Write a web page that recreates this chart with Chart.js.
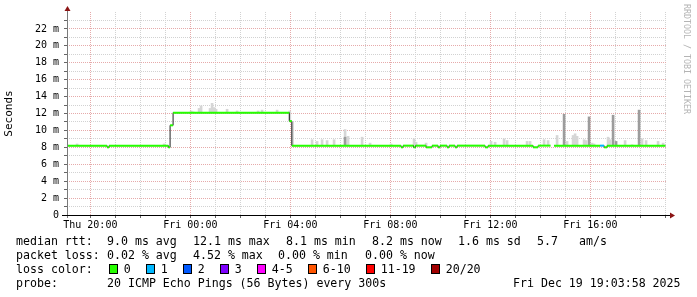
<!DOCTYPE html>
<html>
<head>
<meta charset="utf-8">
<script src="https://cdn.jsdelivr.net/npm/chart.js@4/dist/chart.umd.min.js"></script>
<style>
  body { margin: 0; background: #fff; }
  #wrap { position: relative; width: 697px; height: 297px; overflow: hidden; background: #fff; }
  #chart { position: absolute; left: 0; top: 0; }
  .t { position: absolute; font: 11.6px "DejaVu Sans Mono", monospace; white-space: pre; color: #000; line-height: 14px; }
  .box { position: absolute; width: 7px; height: 8px; border: 1px solid #000; }
  #mark { position: absolute; left: 682px; top: 4px; writing-mode: vertical-rl; font: 8.3px "DejaVu Sans Mono", monospace; color: #b4b4b4; white-space: pre; }
</style>
</head>
<body>
<div id="wrap">
  <canvas id="chart" width="697" height="297"></canvas>
  <div id="mark">RRDTOOL / TOBI OETIKER</div>
  <div id="legend"></div>
</div>
<script>
// time axis in hours counted from Thu 00:00 (24 = Fri 00:00)
var startHour = 19 + 4 / 60;
var endHour = startHour + 24;

// median rtt as runs: run i goes from medianHours[i] to medianHours[i + 1]
var medianHours = [19.07, 20.67, 20.75, 23.12, 23.19, 23.31, 27.96, 28.06, 32.43, 32.51,
                   32.93, 33.01, 33.43, 33.67, 33.91, 33.99, 34.27, 34.35, 34.59, 34.67,
                   35.79, 35.91, 37.71, 37.91, 38.41, 38.55, 40.39, 40.55, 40.67, 43.00];
var medianMs = [8.2, 8.0, 8.2, 8.0, 10.6, 12.1, 11.1, 8.2, 8.0, 8.2,
                8.0, 8.2, 8.0, 8.2, 8.0, 8.2, 8.0, 8.2, 8.0, 8.2,
                8.0, 8.2, 8.0, 8.2, null, 8.2, 8.2, 8.0, 8.2];
var medianLoss = [0, 0, 0, 0, 0, 0, 0, 0, 0, 0,
                  0, 0, 0, 0, 0, 0, 0, 0, 0, 0,
                  0, 0, 0, 0, 0, 0, 1, 0, 0];

// smoke (spread of the 20 pings), light part
var smokeHours = [19.47, 22.95, 24.03, 24.11, 24.35, 24.43, 24.79, 24.87, 24.95, 25.03,
                  25.47, 25.87, 26.71, 26.87, 27.47, 27.98, 28.09, 28.87, 29.07, 29.27,
                  29.47, 29.75, 30.19, 30.31, 30.87, 31.19, 32.03, 32.95, 33.03, 33.43,
                  36.03, 36.19, 36.55, 36.67, 37.47, 37.59, 38.15, 38.31, 38.67, 39.07,
                  39.31, 39.39, 39.47, 39.75, 39.83, 40.07, 40.15, 40.71, 40.79, 41.39,
                  41.67, 42.07, 42.23, 42.71, 42.91];
var smokeLow = [8.2, 8.2, 12.1, 12.1, 12.1, 12.1, 12.1, 12.1, 12.1, 12.1,
                12.1, 12.1, 12.1, 12.1, 12.1, 11.1, 8.2, 8.2, 8.2, 8.2,
                8.2, 8.2, 8.2, 8.2, 8.2, 8.2, 8.2, 8.2, 8.2, 8.2,
                8.2, 8.2, 8.2, 8.2, 8.2, 8.2, 8.2, 8.2, 8.2, 8.2,
                8.2, 8.2, 8.2, 8.2, 8.2, 8.2, 8.2, 8.2, 8.2, 8.2,
                8.2, 8.2, 8.2, 8.2, 8.2];
var smokeHigh = [8.4, 8.4, 12.3, 12.2, 12.6, 12.9, 12.6, 13.2, 12.7, 12.5,
                 12.5, 12.3, 12.3, 12.4, 12.4, 12.3, 11.0, 8.9, 8.7, 8.9,
                 8.8, 8.9, 10.1, 9.3, 9.2, 8.5, 8.4, 9.0, 8.6, 8.5,
                 8.7, 8.6, 9.0, 8.8, 8.7, 8.7, 8.9, 8.8, 9.4, 8.7,
                 9.4, 9.6, 9.3, 8.9, 8.8, 8.5, 8.4, 9.2, 8.9, 8.8,
                 8.3, 9.0, 8.8, 8.7, 8.5];

// smoke, dense part
var denseHours = [30.19, 38.95, 39.95, 40.91, 41.03, 41.95];
var denseLow = [8.2, 8.2, 8.2, 8.2, 8.2, 8.2];
var denseHigh = [9.2, 11.9, 11.6, 11.8, 8.7, 12.4];

var lossLabels = ['0', '1', '2', '3', '4-5', '6-10', '11-19', '20/20'];
var lossColors = ['#26ff00', '#00b8ff', '#0059ff', '#7e00ff', '#ff00ff', '#ff5500', '#ff0000', '#a10000'];

var statsRtt = ['median rtt:', '9.0 ms avg', '12.1 ms max', '8.1 ms min', '8.2 ms now', '1.6 ms sd', '5.7', 'am/s'];
var statsLoss = ['packet loss:', '0.02 % avg', '4.52 % max', '0.00 % min', '0.00 % now'];
var probeText = ['probe:', '20 ICMP Echo Pings (56 Bytes) every 300s', 'Fri Dec 19 19:03:58 2025'];

var mono = '"DejaVu Sans Mono", monospace';
var majorGrid = '#e6aaaa', minorGrid = '#d2d2d2';

// --- datasets built from the arrays ---
var greenPts = [], blackPts = [];
for (var i = 0; i < medianMs.length; i++) {
  var v = medianMs[i];
  blackPts.push({ x: medianHours[i], y: v });
  if (v !== null) {
    greenPts.push({ x: medianHours[i], y: v, loss: medianLoss[i] });
    greenPts.push({ x: medianHours[i + 1], y: v, loss: medianLoss[i] });
  }
  greenPts.push({ x: medianHours[i + 1], y: null });
}
blackPts.push({ x: medianHours[medianHours.length - 1], y: medianMs[medianMs.length - 1] });

var smokePts = smokeHours.map(function (h, k) { return { x: h, y: [smokeLow[k], smokeHigh[k]] }; });
var densePts = denseHours.map(function (h, k) { return { x: h, y: [denseLow[k], denseHigh[k]] }; });

var axisArrows = {
  id: 'axisArrows',
  afterDraw: function (chart) {
    var c = chart.ctx, a = chart.chartArea;
    c.save();
    c.strokeStyle = '#7a7a7a';
    c.lineWidth = 1;
    c.beginPath();
    c.moveTo(a.left + 0.5, a.bottom + 3);
    c.lineTo(a.left + 0.5, a.top - 3);
    c.stroke();
    c.strokeStyle = '#000';
    c.beginPath();
    c.moveTo(a.left - 5, a.bottom + 0.5);
    c.lineTo(a.right + 3, a.bottom + 0.5);
    c.stroke();
    c.fillStyle = '#8b1414';
    c.beginPath();
    c.moveTo(a.left + 0.5, a.top - 6);
    c.lineTo(a.left - 2.5, a.top - 1);
    c.lineTo(a.left + 3.5, a.top - 1);
    c.closePath();
    c.fill();
    c.beginPath();
    c.moveTo(a.right + 8, a.bottom + 0.5);
    c.lineTo(a.right + 3, a.bottom - 2.5);
    c.lineTo(a.right + 3, a.bottom + 3.5);
    c.closePath();
    c.fill();
    c.restore();
  }
};

new Chart(document.getElementById('chart').getContext('2d'), {
  type: 'line',
  data: {
    datasets: [
      {
        type: 'bar', data: smokePts, backgroundColor: '#d6d6d6',
        barThickness: 2, grouped: false, order: 4
      },
      {
        type: 'bar', data: densePts, backgroundColor: '#9c9c9c',
        barThickness: 2, grouped: false, order: 3
      },
      {
        data: blackPts, borderColor: '#202020', borderWidth: 1,
        stepped: true, pointRadius: 0, spanGaps: false, order: 2
      },
      {
        data: greenPts, borderWidth: 2, pointRadius: 0, spanGaps: false,
        borderCapStyle: 'butt', order: 1, borderColor: lossColors[0],
        segment: {
          borderColor: function (ctx) {
            var p = greenPts[ctx.p0DataIndex];
            return lossColors[p.loss || 0];
          }
        }
      }
    ]
  },
  options: {
    responsive: false,
    animation: false,
    devicePixelRatio: 1,
    layout: { padding: { left: 0, right: 30, top: 12, bottom: 62 } },
    plugins: { legend: { display: false }, tooltip: { enabled: false } },
    scales: {
      x: {
        type: 'linear',
        offset: false,
        min: startHour,
        max: endHour,
        afterBuildTicks: function (scale) {
          var t = [];
          for (var h = 20; h <= 43; h++) t.push({ value: h });
          scale.ticks = t;
        },
        afterFit: function (scale) { scale.height = 20; },
        ticks: {
          autoSkip: false, maxRotation: 0, padding: 1, color: '#000',
          font: { family: mono, size: 10 },
          callback: function (v) {
            if (v % 4 !== 0) return '';
            var day = v < 24 ? 'Thu' : 'Fri';
            var hh = v % 24;
            return day + ' ' + (hh < 10 ? '0' : '') + hh + ':00';
          }
        },
        grid: {
          offset: false,
          color: function (ctx) { return ctx.tick && ctx.tick.value % 4 === 0 ? majorGrid : minorGrid; },
          tickLength: 3,
          tickColor: '#666'
        },
        border: { display: false, dash: [1, 1] }
      },
      y: {
        min: 0,
        max: 24,
        afterBuildTicks: function (scale) {
          var t = [];
          for (var m = 0; m <= 23; m++) t.push({ value: m });
          scale.ticks = t;
        },
        afterFit: function (scale) { scale.width = 67; },
        ticks: {
          autoSkip: false, padding: 5, color: '#000',
          font: { family: mono, size: 10 },
          callback: function (v) {
            if (v % 2 !== 0) return '';
            return v === 0 ? '0' : v + ' m';
          }
        },
        grid: {
          color: function (ctx) {
            if (!ctx.tick || ctx.tick.value === 0) return 'rgba(0,0,0,0)';
            return ctx.tick.value % 2 === 0 ? majorGrid : minorGrid;
          },
          tickLength: 3,
          tickColor: '#666'
        },
        border: { display: false, dash: [1, 1] },
        title: {
          display: true, text: 'Seconds', color: '#000', padding: { top: 3, bottom: 0 },
          font: { family: mono, size: 11 }
        }
      }
    }
  },
  plugins: [axisArrows]
});

// --- text legend under the plot ---
var legend = document.getElementById('legend');
function addText(str, left, top) {
  var d = document.createElement('div');
  d.className = 't';
  d.style.left = left + 'px';
  d.style.top = top + 'px';
  d.textContent = str;
  legend.appendChild(d);
}
var rttLeft = [16, 107, 193, 286, 372, 458, 537, 579];
statsRtt.forEach(function (s, k) { addText(s, rttLeft[k], 234); });
var lossLeft = [16, 107, 193, 278, 365];
statsLoss.forEach(function (s, k) { addText(s, lossLeft[k], 248); });
addText('loss color:', 16, 262);
var bx = 108.7;
lossLabels.forEach(function (lab, k) {
  var b = document.createElement('div');
  b.className = 'box';
  b.style.left = bx + 'px';
  b.style.top = '264px';
  b.style.background = lossColors[k];
  legend.appendChild(b);
  addText(lab, bx + 15, 262);
  bx += 15 + lab.length * 7 + 15;
});
addText(probeText[0], 16, 276);
addText(probeText[1], 107, 276);
addText(probeText[2], 513, 276);
</script>
</body>
</html>
